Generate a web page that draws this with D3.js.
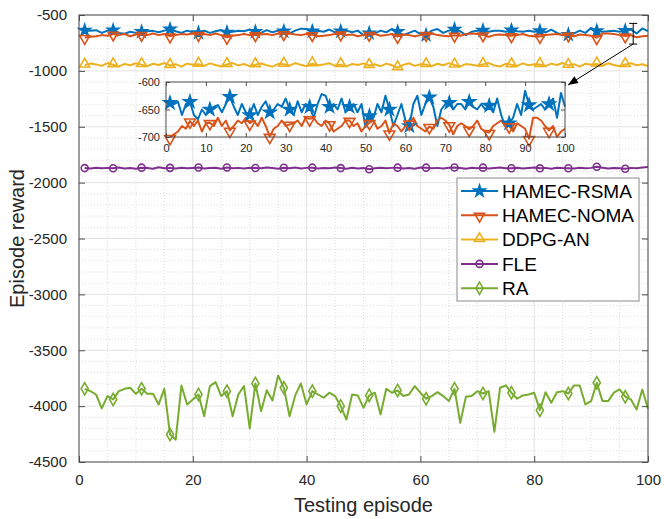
<!DOCTYPE html>
<html>
<head>
<meta charset="utf-8">
<script src="https://cdn.jsdelivr.net/npm/d3@7"></script>
<style>
    body { margin: 0; background: #fff; }
    svg { display: block; font-family: 'Liberation Sans', Arial, Helvetica, sans-serif; }
</style>
</head>
<body>
<div id="chart"></div>
<script>
// Episode rewards, one value per testing episode (1..100)
const episodes = d3.range(1, 101);

const rsma = [-638,-640,-636,-660,-640,-636,-660,-668,-650,-660,-650,-645,-642,-655,-640,-627,-645,-660,-640,-655,
    -660,-640,-660,-645,-635,-655,-650,-640,-645,-630,-650,-660,-635,-655,-640,-645,-665,-640,-622,-625,
    -645,-640,-650,-630,-655,-645,-640,-655,-640,-682,-662,-665,-640,-655,-625,-650,-680,-660,-640,-670,
    -680,-640,-625,-660,-640,-628,-645,-680,-650,-640,-638,-650,-640,-640,-650,-636,-645,-650,-640,-650,
    -643,-655,-630,-660,-680,-675,-665,-640,-660,-616,-642,-650,-645,-640,-650,-640,-630,-665,-620,-645];

const noma = [-701,-695,-690,-680,-685,-671,-680,-670,-690,-675,-674,-680,-665,-680,-670,-688,-680,-670,-675,-665,
    -675,-670,-680,-665,-680,-699,-685,-680,-670,-680,-677,-675,-670,-680,-665,-667,-665,-675,-680,-670,
    -676,-690,-685,-680,-670,-670,-680,-675,-690,-680,-674,-670,-685,-680,-670,-693,-675,-680,-690,-680,
    -675,-665,-680,-685,-690,-681,-685,-670,-665,-670,-678,-695,-680,-675,-680,-686,-680,-670,-685,-690,
    -692,-680,-675,-670,-680,-680,-690,-675,-680,-685,-703,-665,-665,-670,-680,-688,-680,-700,-690,-685];

const ddpg = [-948,-935,-942,-955,-930,-945,-960,-938,-950,-932,-944,-958,-936,-947,-929,-952,-940,-962,-935,-946,
    -940,-955,-933,-948,-961,-943,-930,-951,-939,-957,-945,-934,-949,-962,-937,-941,-953,-930,-946,-958,
    -936,-950,-942,-931,-955,-944,-960,-938,-947,-933,-952,-941,-958,-935,-949,-972,-946,-932,-955,-940,
    -944,-957,-936,-950,-931,-948,-960,-939,-945,-953,-942,-930,-951,-961,-937,-946,-955,-933,-949,-940,
    -943,-958,-935,-947,-929,-951,-940,-962,-936,-945,-938,-954,-932,-948,-959,-943,-931,-950,-941,-956];

const fle = [-1870,-1874,-1866,-1872,-1868,-1871,-1865,-1873,-1869,-1876,-1866,-1870,-1875,-1863,-1871,-1868,-1874,-1866,-1872,-1869,
    -1865,-1873,-1870,-1867,-1875,-1864,-1871,-1868,-1874,-1866,-1869,-1872,-1865,-1870,-1876,-1867,-1871,-1864,-1873,-1868,
    -1866,-1874,-1869,-1872,-1865,-1870,-1876,-1867,-1873,-1869,-1880,-1872,-1866,-1871,-1868,-1866,-1873,-1869,-1875,-1864,
    -1866,-1871,-1868,-1874,-1866,-1865,-1870,-1875,-1867,-1872,-1866,-1873,-1869,-1864,-1871,-1871,-1867,-1874,-1869,-1865,
    -1872,-1868,-1875,-1866,-1870,-1871,-1873,-1867,-1872,-1868,-1858,-1866,-1873,-1869,-1871,-1876,-1868,-1872,-1865,-1861];

const ra = [-3845,-3866,-3896,-4020,-3910,-3940,-3866,-3845,-3836,-3890,-3845,-3890,-3890,-3985,-3845,-4254,-4300,-3815,-3985,-3940,
    -3896,-4090,-3821,-3785,-3910,-3866,-4090,-3896,-3821,-4200,-3797,-4045,-3857,-3949,-3725,-3836,-4090,-3904,-3797,-3985,
    -3866,-3896,-3925,-3880,-3910,-4000,-4120,-3896,-3904,-4015,-3904,-3880,-4075,-3845,-3880,-3860,-3910,-3896,-3821,-3880,
    -3934,-3910,-3875,-3910,-3955,-3845,-4150,-3916,-3910,-3866,-3887,-3866,-4230,-3836,-3815,-3880,-3934,-3904,-3896,-3880,
    -4036,-3875,-3970,-3875,-3866,-3887,-3815,-3815,-3985,-3955,-3791,-3955,-3955,-3880,-3851,-3916,-3940,-4030,-3851,-4024];

const seriesNames = ['HAMEC-RSMA', 'HAMEC-NOMA', 'DDPG-AN', 'FLE', 'RA'];
const seriesValues = [rsma, noma, ddpg, fle, ra];
const seriesColors = ['#0072BD', '#D95319', '#EDB120', '#7E2F8E', '#77AC30'];
const seriesMarkers = ['star', 'triangleDown', 'triangleUp', 'circle', 'diamond'];

const xTicks = [0, 20, 40, 60, 80, 100];
const yTicks = [-4500, -4000, -3500, -3000, -2500, -2000, -1500, -1000, -500];
const insetXTicks = [0, 10, 20, 30, 40, 50, 60, 70, 80, 90, 100];
const insetYTicks = [-700, -650, -600];
const zoomBracket = { episode: 97.4, top: -575, bottom: -760 };

const W = 664, H = 519;
const plot = { left: 79, right: 648, top: 15, bottom: 462 };
const inset = { left: 166, right: 565, top: 82, bottom: 137 };
const textColor = '#262626';
const axisColor = '#4d4d4d';

const svg = d3.select('#chart').append('svg')
    .attr('width', W)
    .attr('height', H);

const x = d3.scaleLinear().domain([0, 100]).range([plot.left, plot.right]);
const y = d3.scaleLinear().domain([-4500, -500]).range([plot.bottom, plot.top]);

// Marker drawing (Matlab-like markers)
function markerPath(type, scale) {
    const s = scale || 1;
    if (type === 'star') return d3.symbol(d3.symbolStar, 40 * s)();
    if (type === 'triangleDown' || type === 'triangleUp') return d3.symbol(d3.symbolTriangle, 44 * s)();
    if (type === 'circle') return d3.symbol(d3.symbolCircle, 38 * s)();
    return d3.symbol(d3.symbolDiamond, 44 * s)();
}

function drawMarker(g, type, color, cx, cy, scale) {
    const rot = type === 'triangleDown' ? 180 : 0;
    const dy = type === 'triangleDown' ? 1 : (type === 'triangleUp' ? -1 : 0);
    g.append('path')
        .attr('d', markerPath(type, scale))
        .attr('transform', `translate(${cx},${cy + dy}) rotate(${rot})`)
        .attr('fill', type === 'star' ? color : 'none')
        .attr('stroke', color)
        .attr('stroke-width', 1.6)
        .attr('stroke-linejoin', 'miter');
}

// Grid: minor dotted, major solid
const grid = svg.append('g');
const minorX = d3.range(0, 101, 5).filter(v => xTicks.indexOf(v) < 0);
const minorY = d3.range(-4500, -499, 100).filter(v => yTicks.indexOf(v) < 0);

grid.selectAll('.minor-x').data(minorX).enter().append('line')
    .attr('x1', d => x(d)).attr('x2', d => x(d))
    .attr('y1', plot.top).attr('y2', plot.bottom)
    .attr('stroke', '#d4d4d4').attr('stroke-width', 0.8).attr('stroke-dasharray', '1,2');
grid.selectAll('.minor-y').data(minorY).enter().append('line')
    .attr('x1', plot.left).attr('x2', plot.right)
    .attr('y1', d => y(d)).attr('y2', d => y(d))
    .attr('stroke', '#d4d4d4').attr('stroke-width', 0.8).attr('stroke-dasharray', '1,2');
grid.selectAll('.major-x').data(xTicks).enter().append('line')
    .attr('x1', d => x(d)).attr('x2', d => x(d))
    .attr('y1', plot.top).attr('y2', plot.bottom)
    .attr('stroke', '#e3e3e3').attr('stroke-width', 1);
grid.selectAll('.major-y').data(yTicks).enter().append('line')
    .attr('x1', plot.left).attr('x2', plot.right)
    .attr('y1', d => y(d)).attr('y2', d => y(d))
    .attr('stroke', '#e3e3e3').attr('stroke-width', 1);

// Series lines
const line = d3.line()
    .x((d, i) => x(episodes[i]))
    .y(d => y(d));

const series = svg.append('g');
seriesValues.forEach((vals, k) => {
    series.append('path')
        .datum(vals)
        .attr('d', line)
        .attr('fill', 'none')
        .attr('stroke', seriesColors[k])
        .attr('stroke-width', 2)
        .attr('stroke-linejoin', 'round');
    const mg = series.append('g');
    episodes.forEach((e, i) => {
        if ((e - 1) % 5 === 0) drawMarker(mg, seriesMarkers[k], seriesColors[k], x(e), y(vals[i]));
    });
});

// Axes box and ticks (inside, on all four sides)
const axes = svg.append('g');
axes.append('rect')
    .attr('x', plot.left).attr('y', plot.top)
    .attr('width', plot.right - plot.left).attr('height', plot.bottom - plot.top)
    .attr('fill', 'none').attr('stroke', axisColor).attr('stroke-width', 1);

const bottomAxis = axes.append('g')
    .attr('transform', `translate(0,${plot.bottom})`)
    .call(d3.axisBottom(x).tickValues(xTicks).tickSizeInner(-6).tickSizeOuter(0).tickPadding(12));
const topAxis = axes.append('g')
    .attr('transform', `translate(0,${plot.top})`)
    .call(d3.axisTop(x).tickValues(xTicks).tickSizeInner(-6).tickSizeOuter(0).tickFormat(''));
const leftAxis = axes.append('g')
    .attr('transform', `translate(${plot.left},0)`)
    .call(d3.axisLeft(y).tickValues(yTicks).tickSizeInner(-6).tickSizeOuter(0).tickPadding(12));
const rightAxis = axes.append('g')
    .attr('transform', `translate(${plot.right},0)`)
    .call(d3.axisRight(y).tickValues(yTicks).tickSizeInner(-6).tickSizeOuter(0).tickFormat(''));

[bottomAxis, topAxis, leftAxis, rightAxis].forEach(a => {
    a.select('.domain').remove();
    a.selectAll('line').attr('stroke', axisColor);
    a.selectAll('text')
        .style('font-size', '15px')
        .style('font-family', "'Liberation Sans', Arial, sans-serif")
        .attr('fill', textColor);
});
leftAxis.selectAll('text').text(d => d3.format('d')(d).replace('−', '-'));

// Axis labels
svg.append('text')
    .attr('x', (plot.left + plot.right) / 2)
    .attr('y', 512)
    .attr('text-anchor', 'middle')
    .style('font-size', '20px')
    .attr('fill', textColor)
    .text('Testing episode');

svg.append('text')
    .attr('transform', `translate(24,${(plot.top + plot.bottom) / 2}) rotate(-90)`)
    .attr('text-anchor', 'middle')
    .style('font-size', '20px')
    .attr('fill', textColor)
    .text('Episode reward');

// Legend
const legend = svg.append('g');
const lg = { left: 457, right: 639, top: 178, bottom: 301, row0: 191, rowStep: 24.3 };
legend.append('rect')
    .attr('x', lg.left).attr('y', lg.top)
    .attr('width', lg.right - lg.left).attr('height', lg.bottom - lg.top)
    .attr('fill', '#fff').attr('stroke', '#8a8a8a').attr('stroke-width', 1);
seriesNames.forEach((name, k) => {
    const ry = lg.row0 + k * lg.rowStep;
    legend.append('line')
        .attr('x1', 461).attr('x2', 498).attr('y1', ry).attr('y2', ry)
        .attr('stroke', seriesColors[k]).attr('stroke-width', 2);
    drawMarker(legend, seriesMarkers[k], seriesColors[k], 479.5, ry);
    legend.append('text')
        .attr('x', 502).attr('y', ry)
        .attr('dy', '0.36em')
        .style('font-size', '19px')
        .attr('fill', '#000')
        .text(name);
});

// Inset: zoom on HAMEC-RSMA / HAMEC-NOMA
const ix = d3.scaleLinear().domain([0, 100]).range([inset.left, inset.right]);
const iy = d3.scaleLinear().domain([-700, -600]).range([inset.bottom, inset.top]);
const ig = svg.append('g');

const insetLine = d3.line()
    .x((d, i) => ix(episodes[i]))
    .y(d => iy(d));

[0, 1].forEach(k => {
    ig.append('path')
        .datum(seriesValues[k])
        .attr('d', insetLine)
        .attr('fill', 'none')
        .attr('stroke', seriesColors[k])
        .attr('stroke-width', 2)
        .attr('stroke-linejoin', 'round');
});
[0, 1].forEach(k => {
    episodes.forEach((e, i) => {
        if ((e - 1) % 5 === 0) drawMarker(ig, seriesMarkers[k], seriesColors[k], ix(e), iy(seriesValues[k][i]), 1.15);
    });
});

ig.append('rect')
    .attr('x', inset.left).attr('y', inset.top)
    .attr('width', inset.right - inset.left).attr('height', inset.bottom - inset.top)
    .attr('fill', 'none').attr('stroke', axisColor).attr('stroke-width', 1);

const iBottom = ig.append('g')
    .attr('transform', `translate(0,${inset.bottom})`)
    .call(d3.axisBottom(ix).tickValues(insetXTicks).tickSizeInner(-4).tickSizeOuter(0).tickPadding(7));
const iTop = ig.append('g')
    .attr('transform', `translate(0,${inset.top})`)
    .call(d3.axisTop(ix).tickValues(insetXTicks).tickSizeInner(-4).tickSizeOuter(0).tickFormat(''));
const iLeft = ig.append('g')
    .attr('transform', `translate(${inset.left},0)`)
    .call(d3.axisLeft(iy).tickValues(insetYTicks).tickSizeInner(-4).tickSizeOuter(0).tickPadding(6));
const iRight = ig.append('g')
    .attr('transform', `translate(${inset.right},0)`)
    .call(d3.axisRight(iy).tickValues(insetYTicks).tickSizeInner(-4).tickSizeOuter(0).tickFormat(''));

[iBottom, iTop, iLeft, iRight].forEach(a => {
    a.select('.domain').remove();
    a.selectAll('line').attr('stroke', axisColor);
    a.selectAll('text')
        .style('font-size', '11px')
        .style('font-family', "'Liberation Sans', Arial, sans-serif")
        .attr('fill', textColor);
});
iLeft.selectAll('text').text(d => d3.format('d')(d).replace('−', '-'));

// Zoom bracket and arrow pointing to the inset
const ann = svg.append('g').attr('stroke', '#000').attr('stroke-width', 1);
const bx = x(zoomBracket.episode);
const bTop = y(zoomBracket.top);
const bBot = y(zoomBracket.bottom);
ann.append('line').attr('x1', bx).attr('x2', bx).attr('y1', bTop).attr('y2', bBot);
ann.append('line').attr('x1', bx - 4).attr('x2', bx + 4).attr('y1', bTop).attr('y2', bTop);
ann.append('line').attr('x1', bx - 4).attr('x2', bx + 4).attr('y1', bBot).attr('y2', bBot);

const ax2 = inset.right + 3, ay2 = inset.top + 3;
ann.append('line').attr('x1', bx).attr('y1', bBot).attr('x2', ax2).attr('y2', ay2);
const ang = Math.atan2(ay2 - bBot, ax2 - bx);
const headLen = 10, headW = 4;
const hx = ax2 - headLen * Math.cos(ang), hy = ay2 - headLen * Math.sin(ang);
svg.append('path')
    .attr('d', `M${ax2},${ay2} L${hx + headW * Math.sin(ang)},${hy - headW * Math.cos(ang)} L${hx - headW * Math.sin(ang)},${hy + headW * Math.cos(ang)} Z`)
    .attr('fill', '#000');
</script>
</body>
</html>
